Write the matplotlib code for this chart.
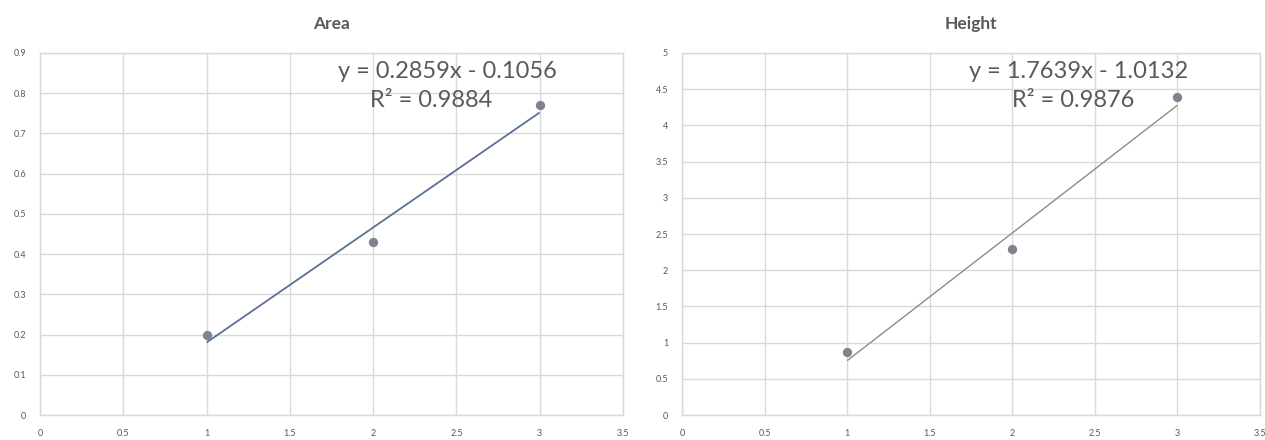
import matplotlib
matplotlib.use("Agg")
import matplotlib.pyplot as plt
import numpy as np

# Measurements for the two calibration curves
x_vals = [1, 2, 3]
area_vals = [0.198, 0.4308, 0.7698]
height_vals = [0.865, 2.286, 4.393]

# Linear trendline coefficients shown on each panel
area_fit = {"slope": 0.2859, "intercept": -0.1056, "r2": 0.9884}
height_fit = {"slope": 1.7639, "intercept": -1.0132, "r2": 0.9876}

area_title = "Area"
height_title = "Height"

x_ticks = [0, 0.5, 1, 1.5, 2, 2.5, 3, 3.5]
area_ticks = [0, 0.1, 0.2, 0.3, 0.4, 0.5, 0.6, 0.7, 0.8, 0.9]
height_ticks = [0, 0.5, 1, 1.5, 2, 2.5, 3, 3.5, 4, 4.5, 5]

plt.rcParams['font.family'] = ['Lato', 'DejaVu Sans']

TEXT = "#595959"
GRID = "#d9d9d9"
MARKER = "#7d848e"

fig = plt.figure(figsize=(12.65, 4.4), dpi=100)
ax_area = fig.add_axes([40 / 1265, 25 / 440, 583 / 1265, 362 / 440])
ax_height = fig.add_axes([682 / 1265, 25 / 440, 578 / 1265, 362 / 440])


def fmt(v):
    return f"{v:g}"


def draw_panel(ax, title, yvals, fit, yticks, line_color, line_width, eq_pos, r2_pos):
    x = np.array(x_vals, dtype=float)
    y = np.array(yvals, dtype=float)

    slope, intercept = fit["slope"], fit["intercept"]
    xs = np.array([x.min(), x.max()])
    ax.plot(xs, slope * xs + intercept, color=line_color, lw=line_width,
            zorder=3, solid_capstyle='butt')
    ax.scatter(x, y, s=45, color=MARKER, zorder=4, linewidths=0)

    ax.set_xlim(x_ticks[0], x_ticks[-1])
    ax.set_ylim(yticks[0], yticks[-1])
    ax.set_xticks(x_ticks)
    ax.set_yticks(yticks)
    ax.set_xticklabels([fmt(t) for t in x_ticks])
    ax.set_yticklabels([fmt(t) for t in yticks])
    ax.tick_params(length=0, labelsize=6.5, labelcolor=TEXT, pad=10)
    ax.grid(True, color=GRID, lw=1)
    ax.set_axisbelow(True)
    for sp in ax.spines.values():
        sp.set_color(GRID)
        sp.set_linewidth(1)

    ax.text(0.5, 1.0 + 29 / 362, title, transform=ax.transAxes,
            ha='center', va='center', fontsize=12.5, fontweight='bold', color=TEXT)

    sign = '-' if intercept < 0 else '+'
    ax.text(eq_pos[0], eq_pos[1], f"y = {slope:.4f}x {sign} {abs(intercept):.4f}",
            ha='center', va='center', fontsize=17, color=TEXT)
    ax.text(r2_pos[0], r2_pos[1], f"R² = {fit['r2']:.4f}",
            ha='center', va='center', fontsize=17, color=TEXT)


draw_panel(ax_area, area_title, area_vals, area_fit, area_ticks, "#5a7193", 1.3,
           (2.449, 0.853), (2.347, 0.783))
draw_panel(ax_height, height_title, height_vals, height_fit, height_ticks, "#8c8c8c", 1.0,
           (2.40, 4.74), (2.366, 4.35))

fig.savefig("out.png", dpi=100, facecolor="white")
